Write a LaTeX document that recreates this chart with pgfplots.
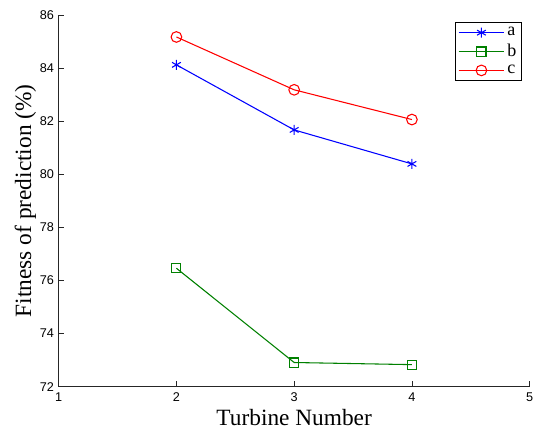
\documentclass[border=0pt]{standalone}
\usepackage{pgfplots}
\pgfplotsset{compat=1.18}
\usepackage{fontspec}
\setmainfont{Liberation Serif}
\setsansfont{Liberation Sans}
\definecolor{mblue}{rgb}{0,0,1}
\definecolor{mgreen}{rgb}{0,0.5,0}
\definecolor{mred}{rgb}{1,0,0}
\begin{document}
\begin{tikzpicture}
\path[use as bounding box] (0,0) rectangle (401.25pt,322.5pt);
\begin{axis}[
  at={(44pt,32.5pt)}, anchor=south west,
  scale only axis, width=353.25pt, height=278.8pt,
  xmin=1, xmax=5, ymin=72, ymax=86,
  xtick={1,2,3,4,5}, ytick={72,74,...,86},
  axis lines=left, axis line style={-, black!85, line width=0.6pt},
  tick style={black!85, line width=0.6pt},
  tick align=inside, major tick length=4pt,
  /pgf/number format/assume math mode=true,
  ticklabel style={font=\sffamily\fontsize{9.5}{11}\selectfont},
  xticklabel style={yshift=-1pt},
  xlabel={Turbine Number}, ylabel={Fitness of prediction (\%)},
  label style={font=\fontsize{17.5}{19}\selectfont},
  xlabel style={yshift=1pt},
  ylabel style={yshift=-4pt},
  legend style={at={(0.984,0.98)}, anchor=north east, draw=black, line width=0.6pt,
    font=\fontsize{13.5}{14}\selectfont, inner xsep=2pt, inner ysep=1.5pt,
    row sep=0.8pt,
    cells={anchor=west}, /tikz/every even column/.append style={column sep=2pt}},
  legend image code/.code={\draw[mark repeat=2,mark phase=2] plot coordinates {(0cm,0cm)(0.6cm,0cm)(1.2cm,0cm)};},
  every axis plot/.append style={line width=0.8pt},
]
\addplot[color=mblue, mark=asterisk, mark size=3.8pt, mark options={line width=0.8pt}] coordinates {(2,84.12) (3,81.67) (4,80.39)};
\addlegendentry{a}
\addplot[color=mgreen, mark=square, mark size=3.4pt, mark options={line width=0.8pt}] coordinates {(2,76.46) (3,72.91) (4,72.83)};
\addlegendentry{b}
\addplot[color=mred, mark=o, mark size=4pt, mark options={line width=0.8pt}] coordinates {(2,85.17) (3,83.18) (4,82.06)};
\addlegendentry{c}
\end{axis}
\end{tikzpicture}
\end{document}
